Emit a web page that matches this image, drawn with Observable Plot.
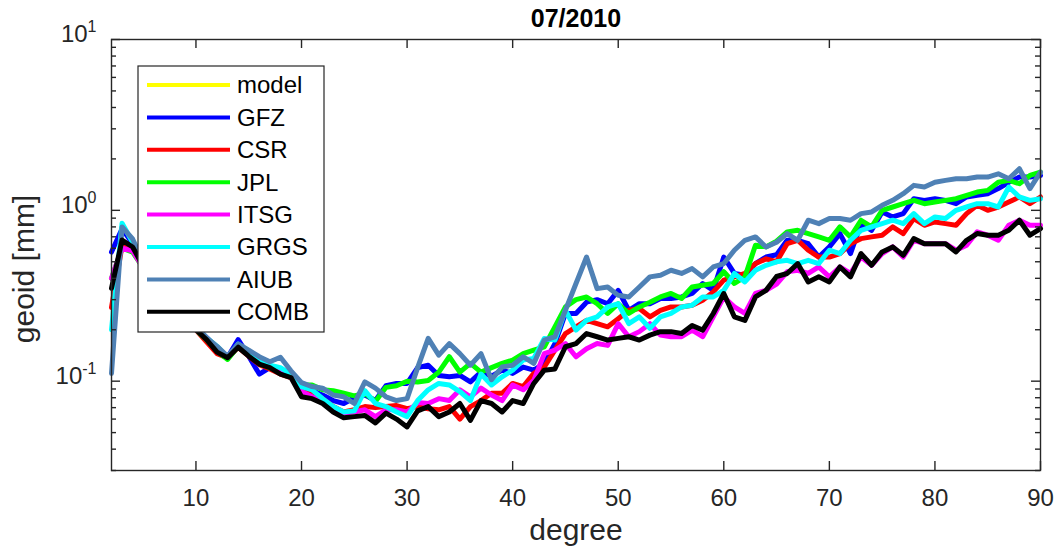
<!DOCTYPE html>
<html><head><meta charset="utf-8">
<script src="https://cdn.jsdelivr.net/npm/d3@7"></script>
<script src="https://cdn.jsdelivr.net/npm/@observablehq/plot@0.6"></script>
<style>
html,body{margin:0;padding:0;background:#fff;}
#chart{width:1056px;height:556px;}
</style></head><body><div id="chart"></div>
<script>
// ---- data ----
const degree = [2,3,4,5,6,7,8,9,10,11,12,13,14,15,16,17,18,19,20,21,22,23,24,25,26,27,28,29,30,31,32,33,34,35,36,37,38,39,40,41,42,43,44,45,46,47,48,49,50,51,52,53,54,55,56,57,58,59,60,61,62,63,64,65,66,67,68,69,70,71,72,73,74,75,76,77,78,79,80,81,82,83,84,85,86,87,88,89,90];
const seriesNames = ["model","GFZ","CSR","JPL","ITSG","GRGS","AIUB","COMB"];
const seriesColors = ["#ffff00","#0000ff","#ff0000","#00ff00","#ff00ff","#00ffff","#4f81b5","#000000"];
const model = [];
const gfz = [0.57,0.78,0.64,0.48,0.40,0.33,0.28,0.24,0.205,0.18,
 0.155,0.138,0.175,0.14,0.11,0.12,0.112,0.107,0.092,0.088,
 0.083,0.077,0.074,0.080,0.083,0.077,0.094,0.097,0.097,0.12,
 0.124,0.108,0.106,0.108,0.099,0.113,0.107,0.116,0.111,0.121,
 0.116,0.127,0.166,0.249,0.249,0.29,0.30,0.284,0.34,0.26,
 0.284,0.284,0.305,0.305,0.311,0.326,0.373,0.34,0.533,0.427,
 0.417,0.488,0.533,0.55,0.668,0.668,0.638,0.533,0.611,0.731,
 0.558,0.836,0.764,0.978,0.915,0.957,1.17,1.144,1.17,1.144,
 1.094,1.197,1.224,1.251,1.34,1.46,1.566,1.566,1.60];
const csr = [0.27,0.62,0.60,0.46,0.38,0.32,0.27,0.23,0.20,0.17,
 0.145,0.137,0.158,0.14,0.125,0.118,0.11,0.105,0.088,0.085,
 0.079,0.071,0.066,0.068,0.071,0.070,0.071,0.072,0.069,0.071,
 0.069,0.068,0.071,0.060,0.071,0.077,0.085,0.085,0.097,0.093,
 0.111,0.121,0.152,0.19,0.208,0.227,0.217,0.208,0.232,0.26,
 0.266,0.238,0.26,0.272,0.272,0.278,0.298,0.333,0.39,0.408,
 0.427,0.488,0.52,0.50,0.638,0.668,0.584,0.533,0.533,0.558,
 0.638,0.683,0.699,0.715,0.80,0.731,0.895,0.818,0.855,0.836,
 0.818,0.957,1.07,1.0,1.046,1.12,1.197,1.094,1.197];
const jpl = [0.40,0.60,0.57,0.46,0.39,0.33,0.28,0.24,0.20,0.175,
 0.15,0.134,0.16,0.145,0.127,0.12,0.113,0.108,0.095,0.095,
 0.089,0.088,0.085,0.082,0.085,0.076,0.092,0.094,0.10,0.099,
 0.101,0.113,0.139,0.113,0.127,0.113,0.12,0.127,0.133,0.145,
 0.152,0.159,0.208,0.272,0.30,0.311,0.284,0.249,0.284,0.249,
 0.272,0.29,0.311,0.326,0.305,0.356,0.364,0.373,0.437,0.373,
 0.408,0.625,0.611,0.66,0.748,0.764,0.731,0.699,0.668,0.80,
 0.699,0.875,0.80,1.0,1.046,1.094,1.144,1.094,1.12,1.144,
 1.17,1.224,1.28,1.309,1.46,1.497,1.432,1.60,1.675];
const itsg = [0.40,0.60,0.58,0.46,0.38,0.32,0.27,0.23,0.20,0.18,
 0.155,0.138,0.16,0.145,0.128,0.122,0.113,0.106,0.087,0.081,
 0.076,0.069,0.065,0.066,0.068,0.062,0.068,0.068,0.066,0.075,
 0.074,0.079,0.077,0.089,0.081,0.091,0.083,0.077,0.095,0.089,
 0.101,0.145,0.152,0.166,0.139,0.155,0.166,0.162,0.217,0.182,
 0.195,0.217,0.186,0.182,0.182,0.199,0.182,0.238,0.311,0.272,
 0.249,0.326,0.34,0.37,0.437,0.446,0.427,0.466,0.408,0.466,
 0.427,0.533,0.477,0.558,0.611,0.533,0.668,0.638,0.638,0.638,
 0.584,0.625,0.748,0.715,0.668,0.818,0.875,0.818,0.818];
const grgs = [0.20,0.84,0.65,0.49,0.40,0.34,0.28,0.24,0.205,0.18,
 0.16,0.138,0.165,0.15,0.13,0.124,0.12,0.11,0.093,0.089,
 0.079,0.071,0.066,0.067,0.088,0.074,0.071,0.066,0.062,0.077,
 0.089,0.097,0.095,0.087,0.077,0.11,0.095,0.106,0.116,0.133,
 0.136,0.178,0.174,0.26,0.199,0.227,0.238,0.272,0.284,0.217,
 0.238,0.204,0.238,0.249,0.272,0.278,0.311,0.311,0.34,0.427,
 0.381,0.446,0.477,0.50,0.51,0.488,0.51,0.488,0.584,0.558,
 0.668,0.764,0.80,0.836,0.875,0.836,0.957,0.836,0.915,0.895,
 1.0,1.046,1.094,1.094,1.046,1.369,1.197,1.144,1.17];
const aiub = [0.111,0.80,0.68,0.50,0.41,0.34,0.29,0.25,0.21,0.18,
 0.16,0.14,0.165,0.152,0.139,0.13,0.138,0.115,0.098,0.093,
 0.091,0.083,0.081,0.074,0.099,0.091,0.081,0.077,0.079,0.12,
 0.178,0.142,0.166,0.145,0.124,0.145,0.102,0.121,0.124,0.139,
 0.127,0.174,0.182,0.26,0.373,0.533,0.348,0.356,0.318,0.311,
 0.356,0.408,0.417,0.446,0.427,0.456,0.408,0.466,0.488,0.584,
 0.668,0.699,0.61,0.65,0.731,0.668,0.875,0.836,0.895,0.895,
 0.875,0.957,0.978,1.07,1.144,1.251,1.40,1.369,1.46,1.497,
 1.53,1.53,1.566,1.566,1.637,1.53,1.752,1.34,1.675];
const comb = [0.35,0.67,0.61,0.47,0.39,0.33,0.28,0.24,0.20,0.175,
 0.148,0.137,0.158,0.14,0.126,0.12,0.11,0.105,0.081,0.079,
 0.074,0.066,0.061,0.062,0.063,0.057,0.065,0.060,0.054,0.067,
 0.071,0.062,0.066,0.074,0.059,0.077,0.074,0.066,0.077,0.074,
 0.097,0.116,0.118,0.159,0.166,0.19,0.182,0.174,0.178,0.182,
 0.174,0.186,0.195,0.195,0.19,0.212,0.199,0.249,0.326,0.238,
 0.227,0.311,0.34,0.41,0.427,0.488,0.381,0.408,0.381,0.466,
 0.408,0.558,0.477,0.571,0.611,0.546,0.683,0.638,0.638,0.638,
 0.571,0.668,0.731,0.715,0.715,0.764,0.875,0.715,0.782];
const xTicks = [10,20,30,40,50,60,70,80,90];
const yTicks = [0.1,1,10];
const yMinorTicks = [0.03,0.04,0.05,0.06,0.07,0.08,0.09,0.2,0.3,0.4,0.5,0.6,0.7,0.8,0.9,2,3,4,5,6,7,8,9];
const titleText = "07/2010";
const xLabel = "degree";
const yLabel = "geoid [mm]";

// ---- build table ----
const allSeries = [model,gfz,csr,jpl,itsg,grgs,aiub,comb];
const rows = [];
allSeries.forEach((vals, i) => vals.forEach((v, j) => rows.push({degree: degree[j], value: v, series: seriesNames[i]})));

const axisColor = "#262626";
const font = "'Liberation Sans', Arial, Helvetica, sans-serif";
const W = 1056, H = 556, mL = 111, mR = 16, mT = 39, mB = 86;
const fw = W - mL - mR, fh = H - mT - mB;
const majorLen = 9, minorLen = 5;

const chart = Plot.plot({
  width: W, height: H,
  marginLeft: mL, marginRight: mR, marginTop: mT, marginBottom: mB,
  x: {domain: [2, 90]},
  y: {type: "log", domain: [0.03, 10]},
  color: {domain: seriesNames, range: seriesColors},
  style: {fontFamily: font, fontSize: "24px", color: axisColor, background: "#fff", overflow: "visible"},
  marks: [
    Plot.line(rows, {x: "degree", y: "value", z: "series", stroke: "series", strokeWidth: 5, strokeLinejoin: "round"}),
    // tick labels
    Plot.axisX({ticks: xTicks, tickSize: 0, tickPadding: 18, label: null, fill: axisColor, fontSize: 24}),
    Plot.axisY({ticks: yTicks, tickSize: 0, tickPadding: 15, dy: -5, label: null, fill: axisColor, fontSize: 24,
      tickFormat: d => "10^" + Math.round(Math.log10(d))}),
    // inward tick lines on all four sides
    Plot.tickX(xTicks, {x: d => d, insetTop: fh - majorLen, stroke: axisColor, strokeWidth: 1.4}),
    Plot.tickX(xTicks, {x: d => d, insetBottom: fh - majorLen, stroke: axisColor, strokeWidth: 1.4}),
    Plot.tickY(yTicks, {y: d => d, insetRight: fw - majorLen, stroke: axisColor, strokeWidth: 1.4}),
    Plot.tickY(yTicks, {y: d => d, insetLeft: fw - majorLen, stroke: axisColor, strokeWidth: 1.4}),
    Plot.tickY(yMinorTicks, {y: d => d, insetRight: fw - minorLen, stroke: axisColor, strokeWidth: 1.4}),
    Plot.tickY(yMinorTicks, {y: d => d, insetLeft: fw - minorLen, stroke: axisColor, strokeWidth: 1.4}),
    Plot.frame({stroke: axisColor, strokeWidth: 1.4}),
    Plot.text([titleText], {frameAnchor: "top", dy: -30, fontWeight: "bold", fontSize: 25, fill: "#000"}),
    Plot.text([xLabel], {frameAnchor: "bottom", textAnchor: "middle", dy: 69, fontSize: 30, fill: axisColor}),
    Plot.text([yLabel], {frameAnchor: "left", textAnchor: "middle", dx: -87, dy: 14, rotate: -90, fontSize: 30, fill: axisColor})
  ]
});

// tick label size enforced on the text elements
d3.select(chart).selectAll('g[aria-label="x-axis tick label"] text, g[aria-label="y-axis tick label"] text')
  .attr("font-size", 24);

// superscript exponents on the y tick labels
d3.select(chart).selectAll('g[aria-label="y-axis tick label"] text').each(function() {
  const t = this.textContent;
  if (!t.includes("^")) return;
  const [b, e] = t.split("^");
  const s = d3.select(this);
  s.text(null);
  s.append("tspan").text(b);
  s.append("tspan").attr("dy", -10).attr("font-size", 16).text(e);
});

// legend box (drawn over the plot, as in the reference)
const svg = d3.select(chart);
const lg = svg.append("g").attr("font-family", font).attr("font-size", 24).attr("text-anchor", "start");
const lx = 138, ly = 66, lw = 186, lh = 266, rowH = 32.4, row0 = 85;
lg.append("rect").attr("x", lx).attr("y", ly).attr("width", lw).attr("height", lh)
  .attr("fill", "#fff").attr("stroke", axisColor).attr("stroke-width", 1.2);
seriesNames.forEach((n, i) => {
  const yy = row0 + i * rowH;
  lg.append("line").attr("x1", lx + 9).attr("x2", lx + 92).attr("y1", yy).attr("y2", yy)
    .attr("stroke", seriesColors[i]).attr("stroke-width", 4);
  lg.append("text").attr("x", lx + 99).attr("y", yy).attr("dy", "0.35em").attr("fill", "#000").text(n);
});

document.getElementById("chart").appendChild(chart);
</script>
</body></html>
